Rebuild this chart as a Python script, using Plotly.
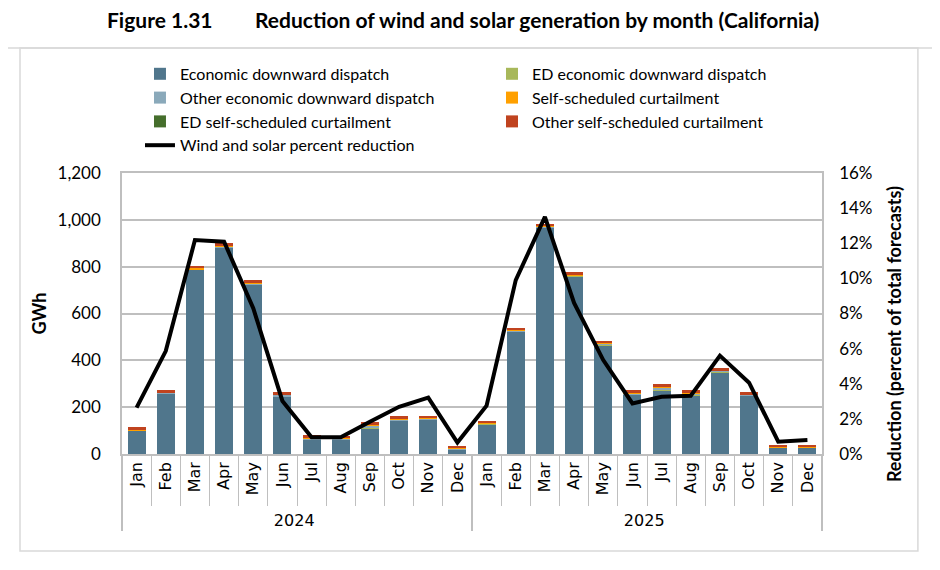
import plotly.graph_objects as go

years = ["2024"] * 12 + ["2025"] * 12
months = ["Jan", "Feb", "Mar", "Apr", "May", "Jun",
          "Jul", "Aug", "Sep", "Oct", "Nov", "Dec"] * 2

# GWh by component
econ = [100, 259, 786, 882, 724, 245, 63, 63, 108, 142, 148, 20,
        128, 524, 968, 760, 464, 253, 273, 250, 350, 249, 26, 26]
ed_econ = [0, 0, 1, 1, 1, 1, 1, 1, 1, 1, 1, 1,
           1, 1, 1, 1, 5, 2, 1, 2, 1, 1, 1, 1]
other_econ = [2, 2, 3, 4, 4, 6, 3, 3, 12, 4, 3, 2,
              2, 2, 2, 3, 3, 4, 10, 8, 4, 3, 2, 2]
self_sched = [1, 1, 4, 2, 2, 2, 3, 1, 2, 1, 1, 1,
              1, 1, 1, 1, 1, 1, 1, 1, 1, 1, 1, 1]
ed_self = [0, 0, 0, 0, 0, 0, 0, 0, 0, 0, 0, 0,
           0, 0, 0, 0, 0, 0, 0, 0, 0, 0, 0, 0]
other_self = [11, 11, 10, 12, 12, 11, 10, 9, 12, 14, 9, 10,
              10, 10, 9, 12, 11, 13, 14, 12, 13, 12, 10, 10]

# percent of total forecasts
pct_reduction = [0.0264, 0.0586, 0.1218, 0.1209, 0.083, 0.0302,
                 0.0095, 0.0095, 0.0184, 0.0269, 0.0321, 0.0065,
                 0.0275, 0.099, 0.135, 0.086, 0.0535, 0.0288,
                 0.0326, 0.0332, 0.056, 0.0406, 0.007, 0.008]

FONT = "Lato"
x = [years, months]

bar_series = [
    ("Economic downward dispatch", econ, "#50768C", "legend"),
    ("ED economic downward dispatch", ed_econ, "#A8B85A", "legend2"),
    ("Other economic downward dispatch", other_econ, "#8AA9BA", "legend"),
    ("Self-scheduled curtailment", self_sched, "#FFA000", "legend2"),
    ("ED self-scheduled curtailment", ed_self, "#456E2C", "legend"),
    ("Other self-scheduled curtailment", other_self, "#C0431F", "legend2"),
]

fig = go.Figure()
for name, vals, color, lg in bar_series:
    fig.add_trace(go.Bar(x=x, y=vals, name=name, marker=dict(color=color, line=dict(width=0)),
                         legend=lg))

fig.add_trace(go.Scatter(
    x=x, y=pct_reduction, yaxis="y2", mode="lines",
    name="Wind and solar percent reduction",
    line=dict(color="black", width=4), legend="legend",
))

legend_style = dict(font=dict(family=FONT, size=16, color="black"), traceorder="normal",
                    bgcolor="rgba(0,0,0,0)", yanchor="top", xanchor="left",
                    xref="container", yref="container",
                    tracegroupgap=0, itemwidth=30)

# page body adds an 8px offset, so the figure is 8px smaller each way
fig.update_layout(
    width=932, height=562,
    margin=dict(l=114, r=118, t=165, b=116, autoexpand=False),
    paper_bgcolor="white", plot_bgcolor="white",
    barmode="stack", bargap=0.38,
    font=dict(family=FONT, size=17, color="black"),
    legend=dict(x=0.1416, y=0.913, **legend_style),
    legend2=dict(x=0.5193, y=0.913, **legend_style),
    xaxis=dict(
        type="multicategory", tickangle=-90,
        tickfont=dict(family="DejaVu Sans", size=16),
        showline=True, linecolor="#BFBFBF", linewidth=1.5, mirror=True,
        ticks="outside", tickson="boundaries", ticklen=50, tickcolor="#BFBFBF",
        showdividers=True, dividercolor="#BFBFBF", dividerwidth=1.5,
        showgrid=False,
    ),
    yaxis=dict(
        range=[0, 1200], dtick=200, tickformat=",",
        showgrid=True, gridcolor="#BFBFBF", gridwidth=1.5,
        showline=True, linecolor="#BFBFBF", linewidth=1.5,
        ticks="", ticklabelstandoff=16, zeroline=False,
    ),
    yaxis2=dict(
        overlaying="y", side="right",
        range=[0, 0.16], dtick=0.02, tickformat=".0%",
        showgrid=False, showline=True, linecolor="#BFBFBF", linewidth=1.5,
        ticks="", ticklabelstandoff=12, zeroline=False,
    ),
)

# axis titles
fig.add_annotation(text="<b>GWh</b>", xref="paper", yref="paper", x=-0.12, y=0.5,
                   xanchor="center", yanchor="middle", textangle=-90, showarrow=False,
                   font=dict(family=FONT, size=18))
fig.add_annotation(text="<b>Reduction (percent of total forecasts)</b>", xref="paper",
                   yref="paper", x=1.103, y=0.427, xanchor="center", yanchor="middle",
                   textangle=-90, showarrow=False, font=dict(family=FONT, size=18))

# title and frame
fig.add_annotation(text="<b>Figure 1.31</b>", xref="paper", yref="paper",
                   x=-0.0243, y=1.548, xanchor="left", yanchor="middle",
                   showarrow=False, font=dict(family=FONT, size=21))
fig.add_annotation(text="<b>Reduction of wind and solar generation by month (California)</b>",
                   xref="paper", yref="paper", x=0.187, y=1.548,
                   xanchor="left", yanchor="middle",
                   showarrow=False, font=dict(family=FONT, size=21))
fig.add_shape(type="line", xref="paper", yref="paper", x0=-0.174, x1=1.17,
              y0=1.445, y1=1.445, line=dict(color="#D9D9D9", width=1.5))
fig.add_shape(type="rect", xref="paper", yref="paper", x0=-0.1457, x1=1.137,
              y0=-0.345, y1=1.445, line=dict(color="#D9D9D9", width=1.5))

fig.write_html("out.html")
